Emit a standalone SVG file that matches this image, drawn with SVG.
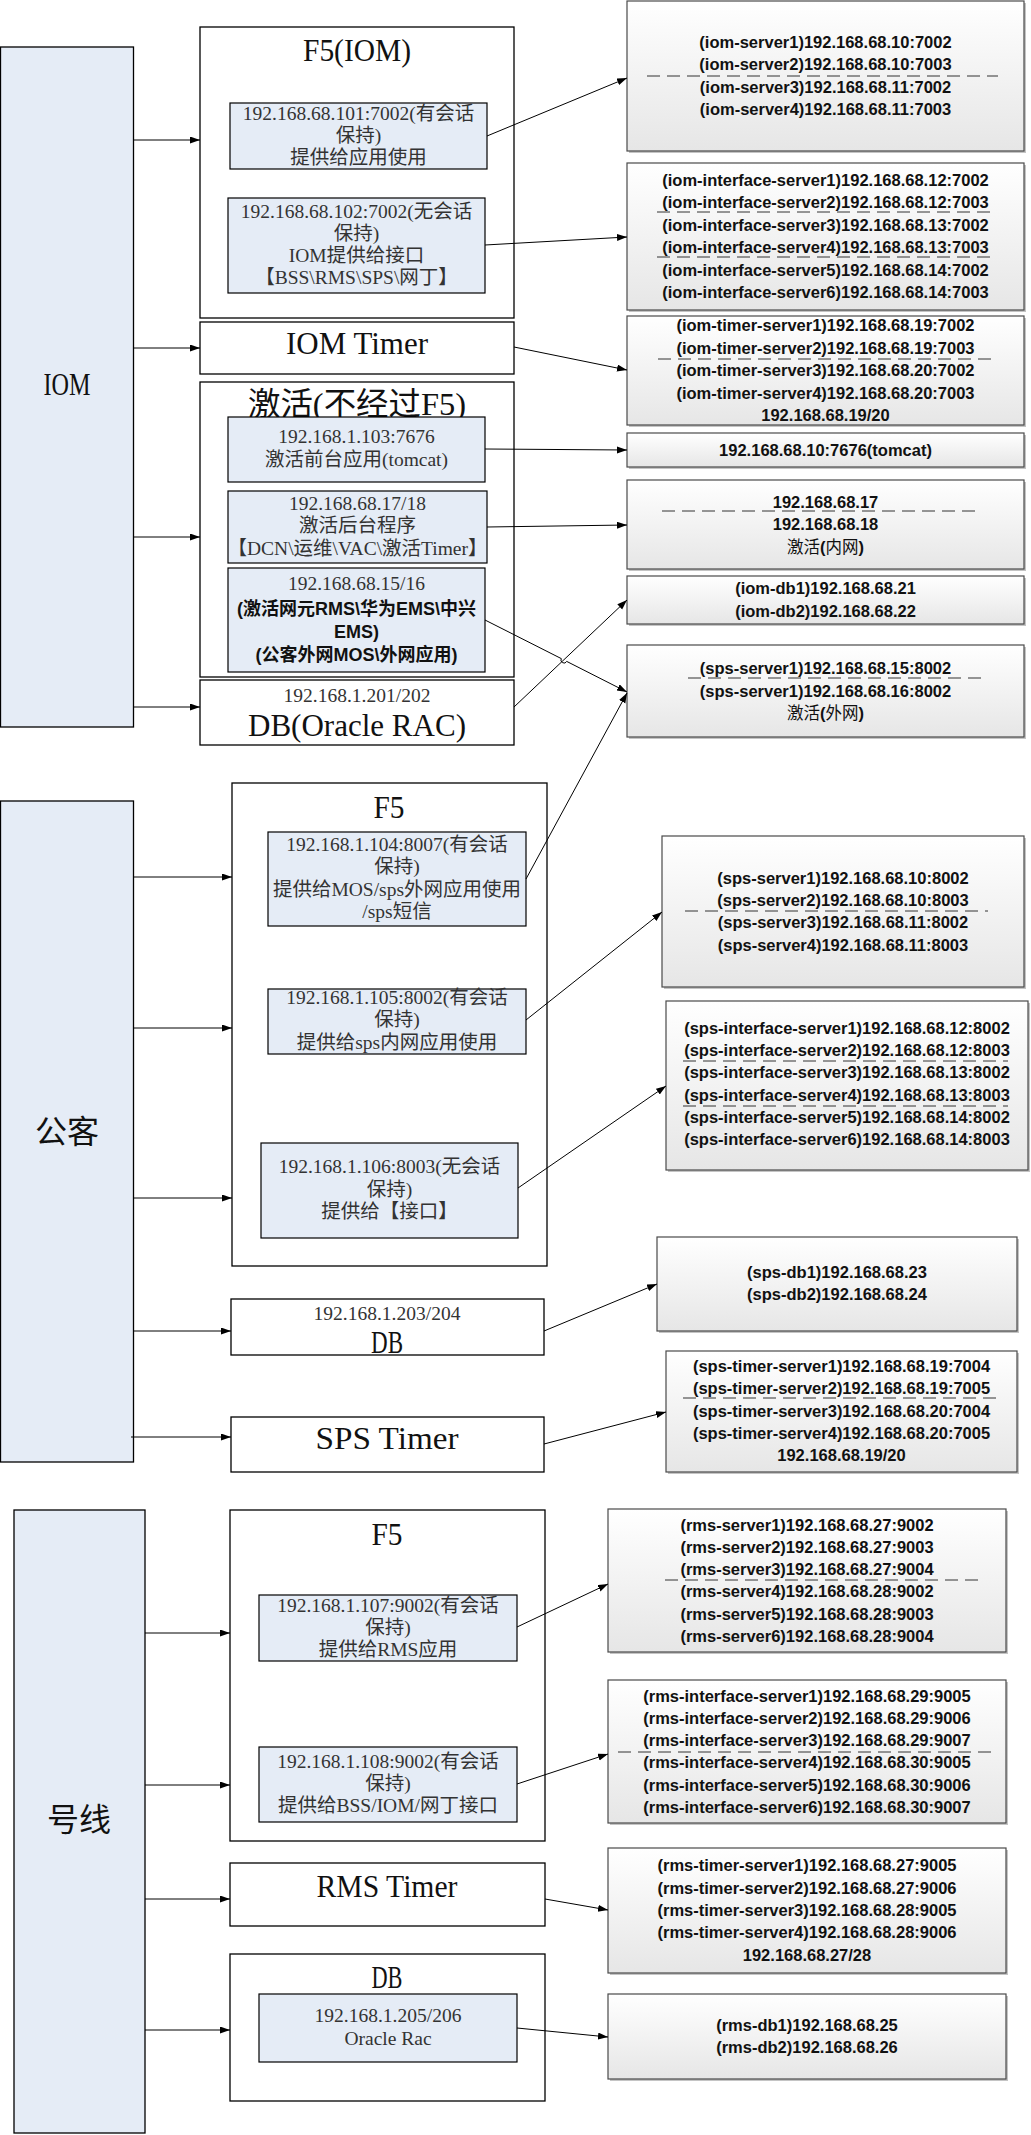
<svg xmlns="http://www.w3.org/2000/svg" width="1031" height="2135" viewBox="0 0 1031 2135">
  <style>
    .grp { fill: #E5ECF6; stroke: #000; stroke-width: 1.3; }
    .box { fill: #fff; stroke: #000; stroke-width: 1.3; }
    .sub { fill: #E5ECF6; stroke: #000; stroke-width: 1.2; }
    .srv { fill: url(#srvFill); stroke: #4a4a4a; stroke-width: 1.2; }
    .shd { fill: #c4c4c4; }
    .big { font-family: "Liberation Serif", "Noto Sans CJK SC", serif; font-size: 32px; fill: #111; text-anchor: middle; }
    .lbl { font-family: "Liberation Serif", "Noto Sans CJK SC", serif; font-size: 19.5px; fill: #333; text-anchor: middle; }
    .lblb { font-family: "Liberation Sans", "Noto Sans CJK SC", sans-serif; font-size: 18px; font-weight: bold; fill: #111; text-anchor: middle; }
    .ip { font-family: "Liberation Sans", "Noto Sans CJK SC", sans-serif; font-size: 16.5px; font-weight: bold; fill: #111; text-anchor: middle; }
    .cn { font-weight: normal; }
    .dash { stroke: #333; stroke-width: 1; stroke-dasharray: 13 7; fill: none; }
    .conn { stroke: #000; stroke-width: 1; fill: none; marker-end: url(#arr); }
  </style>
  <defs>
    <linearGradient id="srvFill" x1="0" y1="0" x2="0" y2="1">
      <stop offset="0" stop-color="#ffffff"/>
      <stop offset="1" stop-color="#e6e6e6"/>
    </linearGradient>
    <marker id="arr" markerWidth="11" markerHeight="8" refX="10" refY="3.5" orient="auto" markerUnits="userSpaceOnUse">
      <path d="M0,0 L10,3.5 L0,7 z" fill="#000"/>
    </marker>
  </defs>

  <!-- ===================== IOM ===================== -->
  <g id="iom">
    <rect class="grp" x="0.5" y="47" width="133" height="680"/>
    <text class="big" x="67" y="395" textLength="47" lengthAdjust="spacingAndGlyphs">IOM</text>
  </g>

  <g id="iom-f5">
    <rect class="box" x="200" y="27" width="314" height="291"/>
    <text class="big" x="357" y="61" textLength="108" lengthAdjust="spacingAndGlyphs">F5(IOM)</text>
  </g>
  <g id="iom-f5-session">
    <rect class="sub" x="230" y="103" width="257" height="66"/>
    <text class="lbl" x="358.5" y="120">192.168.68.101:7002(有会话</text>
    <text class="lbl" x="358.5" y="142">保持)</text>
    <text class="lbl" x="358.5" y="164">提供给应用使用</text>
  </g>
  <g id="iom-f5-nosession">
    <rect class="sub" x="228" y="198" width="257" height="95"/>
    <text class="lbl" x="356.5" y="218">192.168.68.102:7002(无会话</text>
    <text class="lbl" x="356.5" y="240">保持)</text>
    <text class="lbl" x="356.5" y="262">IOM提供给接口</text>
    <text class="lbl" x="356.5" y="284">【BSS\RMS\SPS\网丁】</text>
  </g>

  <g id="iom-timer">
    <rect class="box" x="200" y="322" width="314" height="52"/>
    <text class="big" x="357" y="354" textLength="142" lengthAdjust="spacingAndGlyphs">IOM Timer</text>
  </g>

  <g id="activation">
    <rect class="box" x="200" y="382" width="314" height="295"/>
    <text class="big" x="357" y="415" font-size="30" textLength="218" lengthAdjust="spacingAndGlyphs">激活(不经过F5)</text>
  </g>
  <g id="activation-front">
    <rect class="sub" x="228" y="417" width="257" height="65"/>
    <text class="lbl" x="356.5" y="443">192.168.1.103:7676</text>
    <text class="lbl" x="356.5" y="466">激活前台应用(tomcat)</text>
  </g>
  <g id="activation-back">
    <rect class="sub" x="228" y="491" width="259" height="72"/>
    <text class="lbl" x="357.5" y="510">192.168.68.17/18</text>
    <text class="lbl" x="357.5" y="532">激活后台程序</text>
    <text class="lbl" x="357.5" y="555">【DCN\运维\VAC\激活Timer】</text>
  </g>
  <g id="activation-ne">
    <rect class="sub" x="228" y="568" width="257" height="104"/>
    <text class="lbl" x="356.5" y="590">192.168.68.15/16</text>
    <text class="lblb" x="356.5" y="615">(激活网元RMS\华为EMS\中兴</text>
    <text class="lblb" x="356.5" y="638">EMS)</text>
    <text class="lblb" x="356.5" y="661">(公客外网MOS\外网应用)</text>
  </g>

  <g id="iom-db">
    <rect class="box" x="200" y="680" width="314" height="65"/>
    <text class="lbl" x="357" y="702" fill="#222">192.168.1.201/202</text>
    <text class="big" x="357" y="736" textLength="218" lengthAdjust="spacingAndGlyphs">DB(Oracle RAC)</text>
  </g>

  <!-- IOM server lists -->
  <g id="iom-servers">
    <rect class="shd" x="629" y="3" width="397" height="150"/>
    <rect class="srv" x="627" y="1" width="397" height="150"/>
    <line class="dash" x1="647" y1="76" x2="998" y2="76"/>
    <text class="ip" x="825.5" y="48">(iom-server1)192.168.68.10:7002</text>
    <text class="ip" x="825.5" y="70">(iom-server2)192.168.68.10:7003</text>
    <text class="ip" x="825.5" y="93">(iom-server3)192.168.68.11:7002</text>
    <text class="ip" x="825.5" y="115">(iom-server4)192.168.68.11:7003</text>
  </g>
  <g id="iom-interface-servers">
    <rect class="shd" x="629" y="165" width="397" height="147"/>
    <rect class="srv" x="627" y="163" width="397" height="147"/>
    <line class="dash" x1="657" y1="212" x2="995" y2="212"/>
    <line class="dash" x1="657" y1="257" x2="995" y2="257"/>
    <text class="ip" x="825.5" y="186">(iom-interface-server1)192.168.68.12:7002</text>
    <text class="ip" x="825.5" y="208">(iom-interface-server2)192.168.68.12:7003</text>
    <text class="ip" x="825.5" y="231">(iom-interface-server3)192.168.68.13:7002</text>
    <text class="ip" x="825.5" y="253">(iom-interface-server4)192.168.68.13:7003</text>
    <text class="ip" x="825.5" y="276">(iom-interface-server5)192.168.68.14:7002</text>
    <text class="ip" x="825.5" y="298">(iom-interface-server6)192.168.68.14:7003</text>
  </g>
  <g id="iom-timer-servers">
    <rect class="shd" x="629" y="318" width="397" height="109"/>
    <rect class="srv" x="627" y="316" width="397" height="109"/>
    <line class="dash" x1="658" y1="359" x2="995" y2="359"/>
    <text class="ip" x="825.5" y="331">(iom-timer-server1)192.168.68.19:7002</text>
    <text class="ip" x="825.5" y="353.5">(iom-timer-server2)192.168.68.19:7003</text>
    <text class="ip" x="825.5" y="376">(iom-timer-server3)192.168.68.20:7002</text>
    <text class="ip" x="825.5" y="398.5">(iom-timer-server4)192.168.68.20:7003</text>
    <text class="ip" x="825.5" y="421">192.168.68.19/20</text>
  </g>
  <g id="activation-tomcat">
    <rect class="shd" x="629" y="435" width="397" height="34"/>
    <rect class="srv" x="627" y="433" width="397" height="34"/>
    <text class="ip" x="825.5" y="455.5">192.168.68.10:7676(tomcat)</text>
  </g>
  <g id="activation-intranet">
    <rect class="shd" x="629" y="482" width="397" height="89"/>
    <rect class="srv" x="627" y="480" width="397" height="89"/>
    <line class="dash" x1="662" y1="511" x2="980" y2="511"/>
    <text class="ip" x="825.5" y="507.5">192.168.68.17</text>
    <text class="ip" x="825.5" y="530">192.168.68.18</text>
    <text class="ip" x="825.5" y="552.5"><tspan class="cn">激活</tspan>(<tspan class="cn">内网</tspan>)</text>
  </g>
  <g id="iom-db-servers">
    <rect class="shd" x="629" y="578" width="397" height="48"/>
    <rect class="srv" x="627" y="576" width="397" height="48"/>
    <text class="ip" x="825.5" y="594">(iom-db1)192.168.68.21</text>
    <text class="ip" x="825.5" y="617">(iom-db2)192.168.68.22</text>
  </g>
  <g id="activation-extranet">
    <rect class="shd" x="629" y="647" width="397" height="92"/>
    <rect class="srv" x="627" y="645" width="397" height="92"/>
    <line class="dash" x1="688" y1="678" x2="983" y2="678"/>
    <text class="ip" x="825.5" y="674">(sps-server1)192.168.68.15:8002</text>
    <text class="ip" x="825.5" y="696.5">(sps-server1)192.168.68.16:8002</text>
    <text class="ip" x="825.5" y="719"><tspan class="cn">激活</tspan>(<tspan class="cn">外网</tspan>)</text>
  </g>

  <!-- ===================== 公客 ===================== -->
  <g id="gongke">
    <rect class="grp" x="0.5" y="801" width="133" height="661"/>
    <text class="big" x="67" y="1143" font-size="31">公客</text>
  </g>
  <g id="gongke-f5">
    <rect class="box" x="232" y="783" width="315" height="483"/>
    <text class="big" x="389" y="818" textLength="31" lengthAdjust="spacingAndGlyphs">F5</text>
  </g>
  <g id="gongke-f5-mos">
    <rect class="sub" x="268" y="832" width="258" height="94"/>
    <text class="lbl" x="397" y="851">192.168.1.104:8007(有会话</text>
    <text class="lbl" x="397" y="873">保持)</text>
    <text class="lbl" x="397" y="896">提供给MOS/sps外网应用使用</text>
    <text class="lbl" x="397" y="918">/sps短信</text>
  </g>
  <g id="gongke-f5-intranet">
    <rect class="sub" x="268" y="989" width="258" height="65"/>
    <text class="lbl" x="397" y="1004">192.168.1.105:8002(有会话</text>
    <text class="lbl" x="397" y="1026">保持)</text>
    <text class="lbl" x="397" y="1049">提供给sps内网应用使用</text>
  </g>
  <g id="gongke-f5-interface">
    <rect class="sub" x="261" y="1143" width="257" height="95"/>
    <text class="lbl" x="389.5" y="1173">192.168.1.106:8003(无会话</text>
    <text class="lbl" x="389.5" y="1196">保持)</text>
    <text class="lbl" x="389.5" y="1218">提供给【接口】</text>
  </g>
  <g id="gongke-db">
    <rect class="box" x="231" y="1299" width="313" height="56"/>
    <text class="lbl" x="387" y="1320" fill="#222">192.168.1.203/204</text>
    <text class="big" x="387" y="1353" textLength="32" lengthAdjust="spacingAndGlyphs">DB</text>
  </g>
  <g id="sps-timer">
    <rect class="box" x="231" y="1417" width="313" height="55"/>
    <text class="big" x="387" y="1449" textLength="143" lengthAdjust="spacingAndGlyphs">SPS Timer</text>
  </g>

  <g id="sps-servers">
    <rect class="shd" x="664" y="838" width="362" height="151"/>
    <rect class="srv" x="662" y="836" width="362" height="151"/>
    <line class="dash" x1="685" y1="911" x2="988" y2="911"/>
    <text class="ip" x="843" y="884">(sps-server1)192.168.68.10:8002</text>
    <text class="ip" x="843" y="906">(sps-server2)192.168.68.10:8003</text>
    <text class="ip" x="843" y="928">(sps-server3)192.168.68.11:8002</text>
    <text class="ip" x="843" y="951">(sps-server4)192.168.68.11:8003</text>
  </g>
  <g id="sps-interface-servers">
    <rect class="shd" x="668" y="1003" width="362" height="169"/>
    <rect class="srv" x="666" y="1001" width="362" height="169"/>
    <line class="dash" x1="683" y1="1061" x2="1008" y2="1061"/>
    <line class="dash" x1="683" y1="1106" x2="1008" y2="1106"/>
    <text class="ip" x="847" y="1034">(sps-interface-server1)192.168.68.12:8002</text>
    <text class="ip" x="847" y="1056">(sps-interface-server2)192.168.68.12:8003</text>
    <text class="ip" x="847" y="1078">(sps-interface-server3)192.168.68.13:8002</text>
    <text class="ip" x="847" y="1101">(sps-interface-server4)192.168.68.13:8003</text>
    <text class="ip" x="847" y="1123">(sps-interface-server5)192.168.68.14:8002</text>
    <text class="ip" x="847" y="1145">(sps-interface-server6)192.168.68.14:8003</text>
  </g>
  <g id="sps-db-servers">
    <rect class="shd" x="659" y="1239" width="360" height="94"/>
    <rect class="srv" x="657" y="1237" width="360" height="94"/>
    <text class="ip" x="837" y="1278">(sps-db1)192.168.68.23</text>
    <text class="ip" x="837" y="1300">(sps-db2)192.168.68.24</text>
  </g>
  <g id="sps-timer-servers">
    <rect class="shd" x="668" y="1353" width="351" height="121"/>
    <rect class="srv" x="666" y="1351" width="351" height="121"/>
    <line class="dash" x1="683" y1="1398" x2="998" y2="1398"/>
    <text class="ip" x="841.5" y="1372">(sps-timer-server1)192.168.68.19:7004</text>
    <text class="ip" x="841.5" y="1394">(sps-timer-server2)192.168.68.19:7005</text>
    <text class="ip" x="841.5" y="1417">(sps-timer-server3)192.168.68.20:7004</text>
    <text class="ip" x="841.5" y="1439">(sps-timer-server4)192.168.68.20:7005</text>
    <text class="ip" x="841.5" y="1461">192.168.68.19/20</text>
  </g>

  <!-- ===================== 号线 ===================== -->
  <g id="haoxian">
    <rect class="grp" x="14" y="1510" width="131" height="623"/>
    <text class="big" x="79" y="1831" font-size="31">号线</text>
  </g>
  <g id="haoxian-f5">
    <rect class="box" x="230" y="1510" width="315" height="331"/>
    <text class="big" x="387" y="1545" textLength="31" lengthAdjust="spacingAndGlyphs">F5</text>
  </g>
  <g id="haoxian-f5-rms">
    <rect class="sub" x="259" y="1595" width="258" height="66"/>
    <text class="lbl" x="388" y="1612">192.168.1.107:9002(有会话</text>
    <text class="lbl" x="388" y="1634">保持)</text>
    <text class="lbl" x="388" y="1656">提供给RMS应用</text>
  </g>
  <g id="haoxian-f5-interface">
    <rect class="sub" x="259" y="1747" width="258" height="75"/>
    <text class="lbl" x="388" y="1768">192.168.1.108:9002(有会话</text>
    <text class="lbl" x="388" y="1790">保持)</text>
    <text class="lbl" x="388" y="1812">提供给BSS/IOM/网丁接口</text>
  </g>
  <g id="rms-timer">
    <rect class="box" x="230" y="1863" width="315" height="63"/>
    <text class="big" x="387" y="1897" textLength="141" lengthAdjust="spacingAndGlyphs">RMS Timer</text>
  </g>
  <g id="haoxian-db">
    <rect class="box" x="230" y="1954" width="315" height="147"/>
    <text class="big" x="387" y="1988" textLength="31" lengthAdjust="spacingAndGlyphs">DB</text>
  </g>
  <g id="haoxian-db-rac">
    <rect class="sub" x="259" y="1994" width="258" height="68"/>
    <text class="lbl" x="388" y="2022">192.168.1.205/206</text>
    <text class="lbl" x="388" y="2045">Oracle Rac</text>
  </g>

  <g id="rms-servers">
    <rect class="shd" x="610" y="1511" width="398" height="143"/>
    <rect class="srv" x="608" y="1509" width="398" height="143"/>
    <line class="dash" x1="665" y1="1580" x2="980" y2="1580"/>
    <text class="ip" x="807" y="1531">(rms-server1)192.168.68.27:9002</text>
    <text class="ip" x="807" y="1553">(rms-server2)192.168.68.27:9003</text>
    <text class="ip" x="807" y="1575">(rms-server3)192.168.68.27:9004</text>
    <text class="ip" x="807" y="1597">(rms-server4)192.168.68.28:9002</text>
    <text class="ip" x="807" y="1620">(rms-server5)192.168.68.28:9003</text>
    <text class="ip" x="807" y="1642">(rms-server6)192.168.68.28:9004</text>
  </g>
  <g id="rms-interface-servers">
    <rect class="shd" x="610" y="1682" width="398" height="143"/>
    <rect class="srv" x="608" y="1680" width="398" height="143"/>
    <line class="dash" x1="618" y1="1752" x2="995" y2="1752"/>
    <text class="ip" x="807" y="1702">(rms-interface-server1)192.168.68.29:9005</text>
    <text class="ip" x="807" y="1724">(rms-interface-server2)192.168.68.29:9006</text>
    <text class="ip" x="807" y="1746">(rms-interface-server3)192.168.68.29:9007</text>
    <text class="ip" x="807" y="1768">(rms-interface-server4)192.168.68.30:9005</text>
    <text class="ip" x="807" y="1791">(rms-interface-server5)192.168.68.30:9006</text>
    <text class="ip" x="807" y="1813">(rms-interface-server6)192.168.68.30:9007</text>
  </g>
  <g id="rms-timer-servers">
    <rect class="shd" x="610" y="1850" width="398" height="125"/>
    <rect class="srv" x="608" y="1848" width="398" height="125"/>
    <text class="ip" x="807" y="1871">(rms-timer-server1)192.168.68.27:9005</text>
    <text class="ip" x="807" y="1894">(rms-timer-server2)192.168.68.27:9006</text>
    <text class="ip" x="807" y="1916">(rms-timer-server3)192.168.68.28:9005</text>
    <text class="ip" x="807" y="1938">(rms-timer-server4)192.168.68.28:9006</text>
    <text class="ip" x="807" y="1961">192.168.68.27/28</text>
  </g>
  <g id="rms-db-servers">
    <rect class="shd" x="610" y="1996" width="398" height="85"/>
    <rect class="srv" x="608" y="1994" width="398" height="85"/>
    <text class="ip" x="807" y="2031">(rms-db1)192.168.68.25</text>
    <text class="ip" x="807" y="2053">(rms-db2)192.168.68.26</text>
  </g>

  <!-- ===================== connectors ===================== -->
  <g id="connectors">
    <!-- IOM -->
    <line class="conn" x1="133" y1="140" x2="200" y2="140"/>
    <line class="conn" x1="133" y1="348" x2="200" y2="348"/>
    <line class="conn" x1="133" y1="537" x2="200" y2="537"/>
    <line class="conn" x1="133" y1="707" x2="200" y2="707"/>
    <line class="conn" x1="487" y1="136" x2="627" y2="78"/>
    <line class="conn" x1="485" y1="245" x2="627" y2="237"/>
    <line class="conn" x1="514" y1="347" x2="627" y2="370"/>
    <line class="conn" x1="485" y1="449" x2="627" y2="450"/>
    <line class="conn" x1="487" y1="527" x2="627" y2="525"/>
    <path class="conn" d="M485,620 L561.3,658.6 A3,3 0 0 0 566.7,661.4 L627,692"/>
    <line class="conn" x1="514" y1="707" x2="627" y2="600"/>
    <line class="conn" x1="526" y1="879" x2="627" y2="693"/>
    <!-- 公客 -->
    <line class="conn" x1="133" y1="877" x2="232" y2="877"/>
    <line class="conn" x1="133" y1="1028" x2="232" y2="1028"/>
    <line class="conn" x1="133" y1="1198" x2="232" y2="1198"/>
    <line class="conn" x1="133" y1="1331" x2="231" y2="1331"/>
    <line class="conn" x1="131" y1="1437" x2="231" y2="1437"/>
    <line class="conn" x1="526" y1="1020" x2="662" y2="912"/>
    <line class="conn" x1="518" y1="1188" x2="666" y2="1086"/>
    <line class="conn" x1="544" y1="1331" x2="657" y2="1284"/>
    <line class="conn" x1="544" y1="1444" x2="666" y2="1412"/>
    <!-- 号线 -->
    <line class="conn" x1="145" y1="1633" x2="230" y2="1633"/>
    <line class="conn" x1="145" y1="1785" x2="230" y2="1785"/>
    <line class="conn" x1="145" y1="1899" x2="230" y2="1899"/>
    <line class="conn" x1="145" y1="2030" x2="230" y2="2030"/>
    <line class="conn" x1="517" y1="1627" x2="608" y2="1584"/>
    <line class="conn" x1="517" y1="1784" x2="608" y2="1754"/>
    <line class="conn" x1="545" y1="1899" x2="608" y2="1910"/>
    <line class="conn" x1="517" y1="2028" x2="608" y2="2037"/>
  </g>
</svg>
